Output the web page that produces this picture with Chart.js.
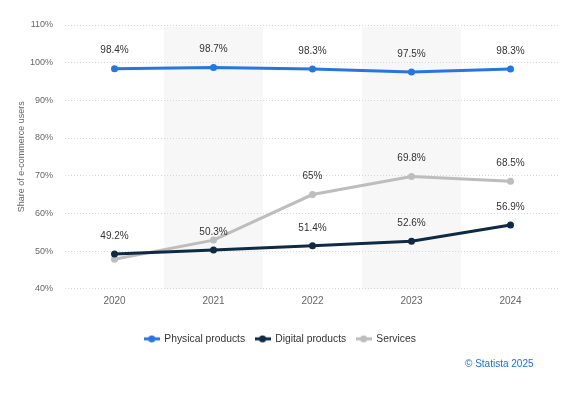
<!DOCTYPE html>
<html><head><meta charset="utf-8">
<script src="https://cdn.jsdelivr.net/npm/chart.js@4.4.1/dist/chart.umd.min.js"></script>
<style>
html,body{margin:0;padding:0;background:#fff;}
#wrap{position:relative;width:564px;height:394px;}
#credit{position:absolute;left:465px;top:358px;font:10px "Liberation Sans",Arial,sans-serif;color:#1f6fd6;}
</style></head><body>
<div id="wrap"><canvas id="c"></canvas><div id="credit">© Statista 2025</div></div>
<script>
const years = ['2020', '2021', '2022', '2023', '2024'];
const physicalProducts = [98.4, 98.7, 98.3, 97.5, 98.3];
const digitalProducts = [49.2, 50.3, 51.4, 52.6, 56.9];
const services = [47.8, 52.9, 65, 69.8, 68.5];
const physicalLabelShown = [true, true, true, true, true];
const digitalLabelShown = [true, true, true, true, true];
const servicesLabelShown = [false, false, true, true, true];
const yTickValues = [40, 50, 60, 70, 80, 90, 100, 110];
const seriesNames = ['Physical products', 'Digital products', 'Services'];
const seriesColors = ['#2876dd', '#0f2a43', '#bdbdbd'];

Chart.defaults.font.family = "'Liberation Sans', Arial, sans-serif";

function legendIcon(color) {
  const cv = document.createElement('canvas');
  cv.width = 16; cv.height = 8;
  const g = cv.getContext('2d');
  g.strokeStyle = color; g.lineWidth = 3;
  g.beginPath(); g.moveTo(0, 4); g.lineTo(16, 4); g.stroke();
  g.fillStyle = color;
  g.beginPath(); g.arc(8, 4, 3.5, 0, Math.PI * 2); g.fill();
  return cv;
}
const icons = seriesColors.map(legendIcon);

const bandPlugin = {
  id: 'bands',
  beforeDraw(chart) {
    const { ctx, chartArea, scales } = chart;
    const x = scales.x;
    const step = x.getPixelForValue(1) - x.getPixelForValue(0);
    ctx.save();
    ctx.fillStyle = '#f7f7f7';
    [1, 3].forEach(i => {
      const cx = x.getPixelForValue(i);
      ctx.fillRect(cx - step / 2, chartArea.top + 2, step, chartArea.bottom - chartArea.top - 2);
    });
    ctx.restore();
  }
};

const labelPlugin = {
  id: 'valueLabels',
  afterDatasetsDraw(chart) {
    const { ctx } = chart;
    ctx.save();
    ctx.font = "10px 'Liberation Sans', Arial, sans-serif";
    ctx.fillStyle = '#333333';
    ctx.textAlign = 'center';
    ctx.textBaseline = 'middle';
    chart.data.datasets.forEach((ds, di) => {
      const meta = chart.getDatasetMeta(di);
      meta.data.forEach((pt, i) => {
        if (!ds.labelShown[i]) return;
        ctx.fillText(String(ds.data[i]) + '%', pt.x, pt.y - 18);
      });
    });
    ctx.restore();
  }
};

const allData = [physicalProducts, digitalProducts, services];
const allShown = [physicalLabelShown, digitalLabelShown, servicesLabelShown];

new Chart(document.getElementById('c'), {
  type: 'line',
  data: {
    labels: years,
    datasets: seriesNames.map((name, i) => ({
      label: name,
      data: allData[i],
      labelShown: allShown[i],
      borderColor: seriesColors[i],
      backgroundColor: seriesColors[i],
      borderWidth: 3,
      pointRadius: 3.5,
      pointHoverRadius: 3.5,
      pointBorderWidth: 0,
      tension: 0
    }))
  },
  options: {
    responsive: true,
    maintainAspectRatio: false,
    animation: false,
    layout: { padding: { top: 25, right: 4, left: 0, bottom: 40 } },
    plugins: {
      tooltip: { enabled: false },
      legend: {
        position: 'bottom',
        labels: {
          usePointStyle: true,
          pointStyleWidth: 15,
          boxHeight: 8,
          padding: 10,
          color: '#333333',
          font: { size: 10.3 },
          generateLabels(chart) {
            const items = Chart.defaults.plugins.legend.labels.generateLabels(chart);
            items.forEach((it, i) => { it.pointStyle = icons[i]; });
            return items;
          }
        }
      }
    },
    scales: {
      x: {
        offset: true,
        grid: { display: false, offset: true, drawTicks: false },
        border: { display: false },
        ticks: { color: '#666666', font: { size: 10 }, padding: 7 },
        afterFit(s) { s.height = 35; }
      },
      y: {
        min: 40,
        max: 110,
        afterBuildTicks(s) { s.ticks = yTickValues.map(v => ({ value: v })); },
        grid: { color: '#d6d6d6', drawTicks: false, lineWidth: 1 },
        border: { display: false, dash: [1, 2] },
        ticks: { color: '#666666', font: { size: 9 }, padding: 12, callback: v => v + '%' },
        title: { display: true, text: 'Share of e-commerce users', color: '#666666', font: { size: 9 }, padding: { top: 16, bottom: 0 } },
        afterFit(s) { s.width = 65; }
      }
    }
  },
  plugins: [bandPlugin, labelPlugin]
});
</script>
</body></html>
